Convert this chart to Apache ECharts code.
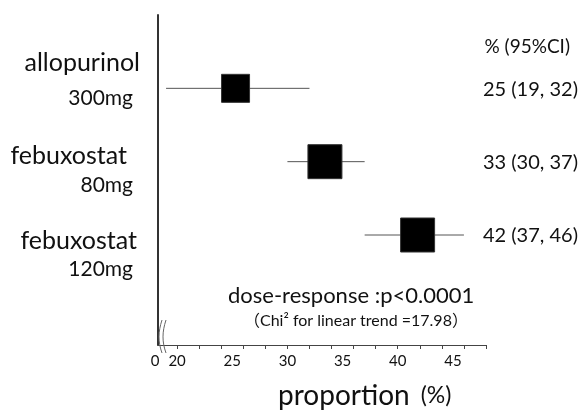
<!DOCTYPE html>
<html>
<head>
<meta charset="utf-8">
<script src="https://cdn.jsdelivr.net/npm/echarts@6/dist/echarts.min.js"></script>
<style>
html,body{margin:0;padding:0;background:#fff;}
#chart{width:582px;height:410px;}
</style>
</head>
<body>
<div id="chart"></div>
<script>
// ---- data ----
const drugs = ['allopurinol', 'febuxostat', 'febuxostat'];
const doses = ['300mg', '80mg', '120mg'];
const estimates = [25.3, 33.4, 41.8];
const lowerCI = [19, 30, 37];
const upperCI = [32, 37, 46];
const xTickValues = [20, 22, 24, 26, 28, 30, 32, 34, 36, 38, 40, 42, 44, 46, 48];
const xLabelValues = [20, 25, 30, 35, 40, 45];
const axisStart = 18.27; // broken axis: origin shown as "0"

const FONT = 'Lato, "Noto Sans", sans-serif';
const boxSizes = [28, 34, 34];

const chart = echarts.init(document.getElementById('chart'));

const rows = estimates.map((e, i) => [e, i + 1, lowerCI[i], upperCI[i]]);

function txt(x, y, text, size, align) {
  return { type: 'text', x: x, y: y, z: 10,
    style: { text: text, font: size + 'px ' + FONT, fill: '#111', align: align || 'right', verticalAlign: 'middle' } };
}

const option = {
  animation: false,
  backgroundColor: '#fff',
  grid: { left: 158, right: 96, top: 15, bottom: 65 },
  xAxis: {
    type: 'value',
    min: axisStart,
    max: 48,
    axisLine: { show: true, onZero: false, lineStyle: { color: '#444', width: 1 } },
    axisTick: { show: true, length: 4, customValues: xTickValues, lineStyle: { color: '#444' } },
    axisLabel: {
      customValues: [axisStart].concat(xLabelValues),
      formatter: v => (v < 19 ? '{z|0}' : String(Math.round(v))),
      rich: { z: { fontFamily: FONT, fontSize: 15, color: '#111', padding: [0, 6, 0, 0] } },
      fontFamily: FONT, fontSize: 15, color: '#111', margin: 9
    },
    splitLine: { show: false }
  },
  yAxis: {
    type: 'value',
    min: 0,
    max: 4.5,
    inverse: true,
    axisLine: { show: true, onZero: false, lineStyle: { color: '#333', width: 2 } },
    axisTick: { show: false },
    axisLabel: { show: false },
    splitLine: { show: false }
  },
  series: [{
    type: 'custom',
    data: rows,
    clip: false,
    renderItem: function (params, api) {
      const y = api.value(1);
      const c = api.coord([api.value(0), y]);
      const l = api.coord([api.value(2), y]);
      const h = api.coord([api.value(3), y]);
      const s = boxSizes[params.dataIndex];
      const cs = params.coordSys;
      const i = params.dataIndex;
      const label = Math.round(estimates[i]) + ' (' + lowerCI[i] + ', ' + upperCI[i] + ')';
      return {
        type: 'group',
        children: [
          { type: 'line', shape: { x1: l[0], y1: c[1], x2: h[0], y2: c[1] },
            style: { stroke: '#555', lineWidth: 1 } },
          { type: 'rect', shape: { x: c[0] - s / 2, y: c[1] - s / 2, width: s, height: s },
            style: { fill: '#000', stroke: '#333', lineWidth: 1 } },
          { type: 'text', z2: 10,
            x: cs.x + cs.width + 92, y: c[1] + 1,
            style: { text: label, align: 'right', verticalAlign: 'middle',
              font: '20px ' + FONT, fill: '#111', backgroundColor: '#fff', padding: [2, 0, 2, 3] } }
        ]
      };
    }
  }],
  graphic: [
    // left labels
    txt(140, 63, drugs[0], 25),
    txt(133, 98, doses[0], 21),
    txt(127, 156, drugs[1], 25),
    txt(133, 185, doses[1], 21),
    txt(137, 241, drugs[2], 25),
    txt(133, 269, doses[2], 21),
    // header
    txt(570, 47, '% (95%CI)', 19),
    // dose response
    txt(228, 296, 'dose-response :p<0.0001', 22, 'left'),
    { type: 'text', x: 244, y: 321, z: 10,
      style: { text: '（Chi² for linear trend =17.98）', font: '16px ' + FONT + ', "Noto Sans CJK JP"', fill: '#111', align: 'left', verticalAlign: 'middle' } },
    // axis title
    { type: 'text', x: 278, y: 396, z: 10, style: {
        text: '{a|proportion}{b|(%)}', align: 'left', verticalAlign: 'middle',
        rich: { a: { fontFamily: FONT, fontSize: 28, fill: '#111' },
                b: { fontFamily: FONT, fontSize: 23, fill: '#111', padding: [0, 0, 0, 11] } }
      } },
    // axis break marks
    { type: 'bezierCurve', z: 5, shape: { x1: 162, y1: 320, x2: 162, y2: 353, cpx1: 158, cpy1: 332, cpx2: 158, cpy2: 342 },
      style: { stroke: '#666', lineWidth: 1, fill: null } },
    { type: 'bezierCurve', z: 5, shape: { x1: 166, y1: 320, x2: 166, y2: 353, cpx1: 162, cpy1: 332, cpx2: 162, cpy2: 342 },
      style: { stroke: '#666', lineWidth: 1, fill: null } }
  ]
};
chart.setOption(option);
</script>
</body>
</html>
